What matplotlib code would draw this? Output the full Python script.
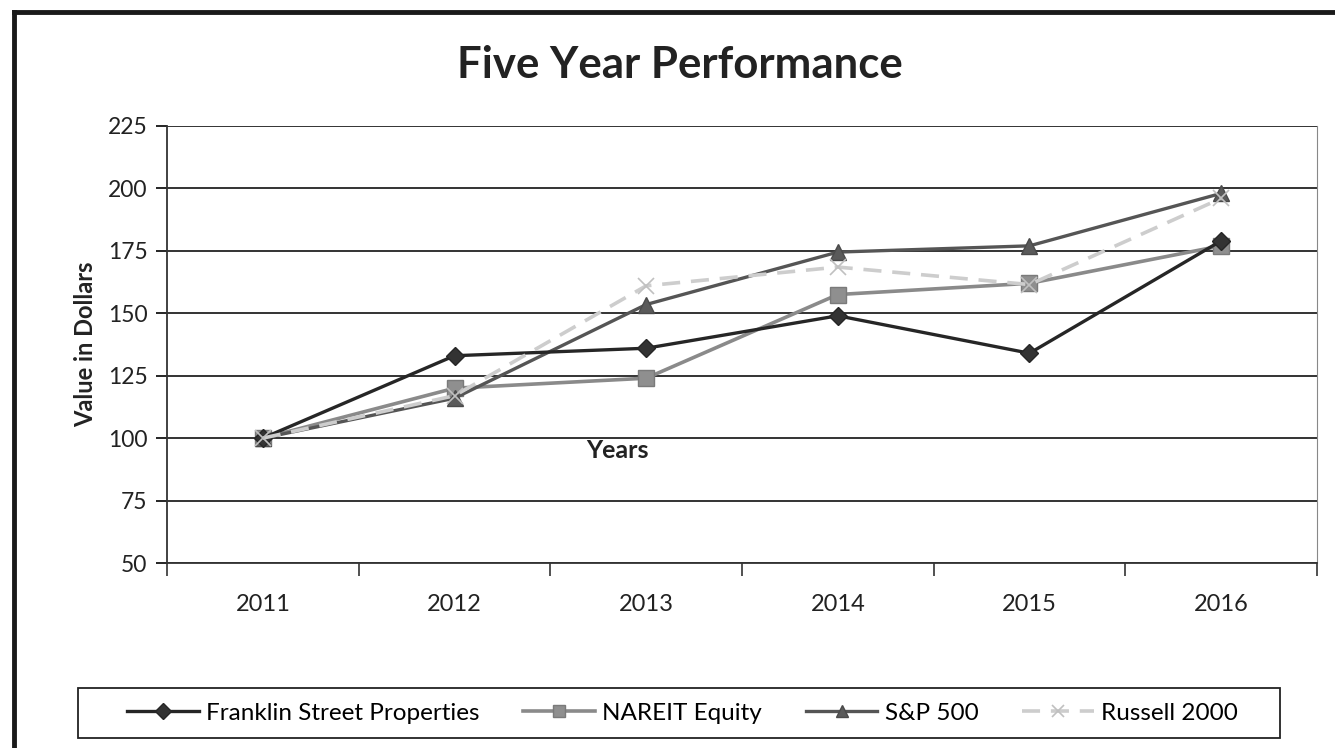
import matplotlib
matplotlib.use('Agg')
from matplotlib import pyplot as plt
from matplotlib.lines import Line2D
from matplotlib.patches import Rectangle

plt.rcParams['font.family'] = ['Lato', 'DejaVu Sans']

years = ['2011', '2012', '2013', '2014', '2015', '2016']
franklin = [100, 133, 136, 149, 134, 179]
nareit = [100, 120, 124, 157.5, 162, 177]
sp500 = [100, 116, 153.5, 174.5, 177, 198]
russell = [100, 117, 161, 168.5, 161.5, 196]

fig = plt.figure(figsize=(13.35, 7.48), dpi=100)
ax = fig.add_axes([0.1251, 0.2473, 0.8614, 0.5843])

x = range(len(years))
ax.plot(x, franklin, color='#262626', lw=2.4, marker='D', ms=9,
        mfc='#333333', mec='#262626', label='Franklin Street Properties', zorder=4)
ax.plot(x, nareit, color='#8a8a8a', lw=2.6, marker='s', ms=11,
        mfc='#8f8f8f', mec='#7a7a7a', label='NAREIT Equity', zorder=3)
ax.plot(x, sp500, color='#555555', lw=2.4, marker='^', ms=11,
        mfc='#5a5a5a', mec='#4a4a4a', label='S&P 500', zorder=3)
ax.plot(x, russell, color='#cdcdcd', lw=2.6, ls=(0, (5, 3)), marker='x', ms=12,
        mew=1.2, mec='#c0c0c0', label='Russell 2000', zorder=5)

ax.set_xlim(-0.5, 5.5)
ax.set_ylim(50, 225)
ax.set_yticks(range(50, 226, 25))
ax.set_xticks(list(x))
ax.set_xticklabels(years)
ax.set_xticks([i - 0.5 for i in range(7)], minor=True)
ax.tick_params(axis='x', which='major', length=0, pad=22, labelsize=17, labelcolor='#222222')
ax.tick_params(axis='x', which='minor', length=9, width=1.2, direction='out', color='#333333')
ax.tick_params(axis='y', length=8, width=1.2, labelsize=16.5, labelcolor='#222222', pad=6)
ax.grid(axis='y', color='#333333', lw=1.4, zorder=0)
ax.set_axisbelow(True)

ax.spines['top'].set_visible(False)
ax.spines['right'].set_color('#888888')
ax.spines['left'].set_color('#333333')
ax.spines['bottom'].set_color('#333333')
ax.spines['left'].set_linewidth(1.3)
ax.spines['bottom'].set_linewidth(1.3)

ax.set_ylabel('Value in Dollars', fontsize=17, fontweight='bold', color='#222222', labelpad=8)
ax.text(1.85, 99.5, 'Years', fontsize=18, fontweight='bold', color='#222222',
        ha='center', va='top')

fig.text(0.509, 0.913, 'Five Year Performance', fontsize=31.5, fontweight='bold',
         color='#222222', ha='center', va='center')

# legend entries without frame, box drawn separately
leg = fig.legend(loc='center', bbox_to_anchor=(0.5113, 0.0468), ncol=4,
                 fontsize=17.5, frameon=False, handlelength=2.95,
                 columnspacing=1.8, handletextpad=0.3, borderpad=0)
for h in leg.legend_handles:
    h.set_markersize(8)
fig.add_artist(Rectangle((0.0584, 0.0134), 0.9004, 0.0668, transform=fig.transFigure,
                         fill=False, edgecolor='#222222', lw=1.3))

# outer chart border (left and top visible)
fig.add_artist(Line2D([0.0105, 0.0105], [0, 0.984], color='#1a1a1a', lw=3.5))
fig.add_artist(Line2D([0.0105, 1.0], [0.984, 0.984], color='#1a1a1a', lw=3.5))

fig.savefig('out.png', dpi=100)
